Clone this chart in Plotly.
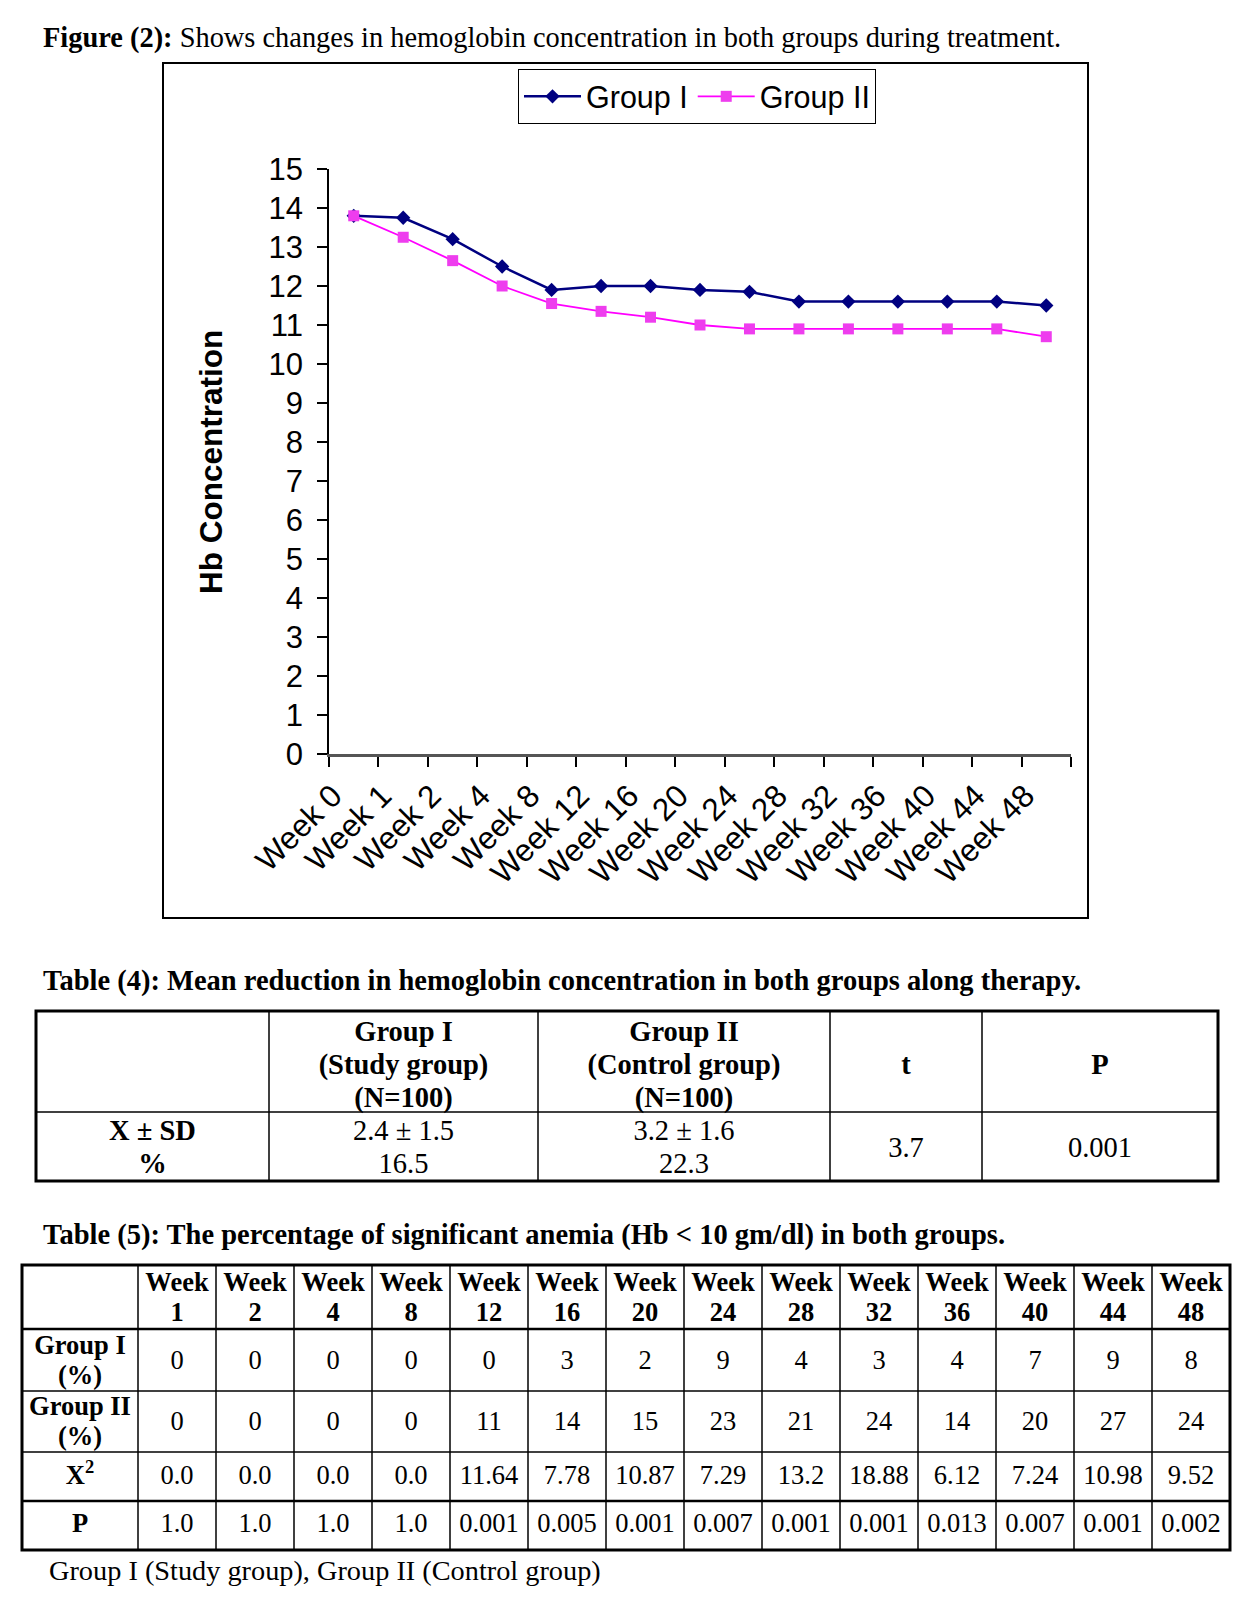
import plotly.graph_objects as go

# ---------------- data ----------------
weeks = ["Week 0", "Week 1", "Week 2", "Week 4", "Week 8", "Week 12", "Week 16", "Week 20",
         "Week 24", "Week 28", "Week 32", "Week 36", "Week 40", "Week 44", "Week 48"]
group1_hb = [13.8, 13.75, 13.2, 12.5, 11.9, 12.0, 12.0, 11.9, 11.85, 11.6, 11.6, 11.6, 11.6, 11.6, 11.5]
group2_hb = [13.8, 13.25, 12.65, 12.0, 11.55, 11.35, 11.2, 11.0, 10.9, 10.9, 10.9, 10.9, 10.9, 10.9, 10.7]

t4_header = ["", "Group I<br>(Study group)<br>(N=100)", "Group II<br>(Control group)<br>(N=100)", "t", "P"]
t4_row = ["<b>X ± SD</b><br><b>%</b>", "2.4 ± 1.5<br>16.5", "3.2 ± 1.6<br>22.3", "3.7", "0.001"]

t5_weeks = ["1", "2", "4", "8", "12", "16", "20", "24", "28", "32", "36", "40", "44", "48"]
t5_group1 = [0, 0, 0, 0, 0, 3, 2, 9, 4, 3, 4, 7, 9, 8]
t5_group2 = [0, 0, 0, 0, 11, 14, 15, 23, 21, 24, 14, 20, 27, 24]
t5_chi2 = ["0.0", "0.0", "0.0", "0.0", "11.64", "7.78", "10.87", "7.29", "13.2", "18.88", "6.12", "7.24", "10.98", "9.52"]
t5_p = ["1.0", "1.0", "1.0", "1.0", "0.001", "0.005", "0.001", "0.007", "0.001", "0.001", "0.013", "0.007", "0.001", "0.002"]
t5_row_labels = ["Group I<br>(%)", "Group II<br>(%)", "X<sup>2</sup>", "P"]

fig_title = "<b>Figure (2):</b> Shows changes in hemoglobin concentration in both groups during treatment."
t4_title = "<b>Table (4): Mean reduction in hemoglobin concentration in both groups along therapy.</b>"
t5_title = "<b>Table (5): The percentage of significant anemia (Hb &lt; 10 gm/dl) in both groups.</b>"
footnote = "Group I (Study group), Group II (Control group)"

# ---------------- page geometry ----------------
OFF = 8
W, H = 1252, 1592
SERIF = "Liberation Serif"
SANS = "Liberation Sans"


def px(X):
    return (X - OFF) / W


def py(Y):
    return 1 - (Y - OFF) / H


fig = go.Figure()

fig.add_trace(go.Scatter(x=weeks, y=group1_hb, name="Group I", mode="lines+markers",
                         line=dict(color="#000080", width=2.5),
                         marker=dict(symbol="diamond", size=11, color="#000080"),
                         xaxis="x", yaxis="y"))
fig.add_trace(go.Scatter(x=weeks, y=group2_hb, name="Group II", mode="lines+markers",
                         line=dict(color="#FF00FF", width=1.8),
                         marker=dict(symbol="square", size=11, color="#EE3DEE"),
                         xaxis="x", yaxis="y"))

shapes = []
annotations = []

# chart frame
shapes.append(dict(type="rect", xref="paper", yref="paper", x0=px(163), x1=px(1088),
                   y0=py(918), y1=py(63), line=dict(color="black", width=2)))

annotations.append(dict(text=fig_title, xref="paper", yref="paper", x=px(41), y=py(38),
                        xanchor="left", yanchor="middle", showarrow=False,
                        font=dict(family=SERIF, size=28.4, color="black")))
annotations.append(dict(text="<b>Hb Concentration</b>", xref="paper", yref="paper", x=px(211), y=py(462),
                        xanchor="center", yanchor="middle", textangle=-90, showarrow=False,
                        font=dict(family=SANS, size=31.5, color="black")))
annotations.append(dict(text=t4_title, xref="paper", yref="paper", x=px(41), y=py(981),
                        xanchor="left", yanchor="middle", showarrow=False,
                        font=dict(family=SERIF, size=28.5, color="black")))
annotations.append(dict(text=t5_title, xref="paper", yref="paper", x=px(41), y=py(1235),
                        xanchor="left", yanchor="middle", showarrow=False,
                        font=dict(family=SERIF, size=28.5, color="black")))
annotations.append(dict(text=footnote, xref="paper", yref="paper", x=px(47), y=py(1570),
                        xanchor="left", yanchor="middle", showarrow=False,
                        font=dict(family=SERIF, size=28.3, color="black")))

layout_axes = {}
PAD = 6


def add_table(idx, col_w, row_h, x_left, y_top, cells, font_size, line_h, text_dy, thick_after=()):
    xa, ya = "xaxis%d" % idx, "yaxis%d" % idx
    xr, yr = "x%d" % idx, "y%d" % idx
    tw, th = sum(col_w), sum(row_h)
    layout_axes[xa] = dict(domain=[px(x_left - PAD), px(x_left + tw + PAD)], range=[-PAD, tw + PAD],
                           visible=False, anchor=yr, fixedrange=True)
    layout_axes[ya] = dict(domain=[py(y_top + th + PAD), py(y_top - PAD)], range=[th + PAD, -PAD],
                           visible=False, anchor=xr, fixedrange=True)
    cx, edges_x = [], [0]
    acc = 0
    for w in col_w:
        cx.append(acc + w / 2)
        acc += w
        edges_x.append(acc)
    cy, edges_y = [], [0]
    acc = 0
    for h in row_h:
        cy.append(acc + h / 2)
        acc += h
        edges_y.append(acc)
    xs, ys, ts = [], [], []
    for r, row in enumerate(cells):
        for c, txt in enumerate(row):
            lines = str(txt).split("<br>")
            n = len(lines)
            for k, ln in enumerate(lines):
                if ln == "":
                    continue
                xs.append(cx[c])
                ys.append(cy[r] + (k - (n - 1) / 2) * line_h + text_dy[r])
                ts.append(ln)
    fig.add_trace(go.Scatter(x=xs, y=ys, text=ts, mode="text", textposition="middle center",
                             textfont=dict(family=SERIF, size=font_size, color="black"),
                             hoverinfo="skip", showlegend=False, cliponaxis=False,
                             xaxis=xr, yaxis=yr))
    for e in edges_x[1:-1]:
        shapes.append(dict(type="line", xref=xr, yref=yr, x0=e, x1=e, y0=0, y1=th,
                           line=dict(color="black", width=1.5)))
    for i, e in enumerate(edges_y[1:-1]):
        wdt = 2.5 if (i + 1) in thick_after else 1.5
        shapes.append(dict(type="line", xref=xr, yref=yr, x0=0, x1=tw, y0=e, y1=e,
                           line=dict(color="black", width=wdt)))
    shapes.append(dict(type="rect", xref=xr, yref=yr, x0=0, x1=tw, y0=0, y1=th,
                       line=dict(color="black", width=3)))


# Table 4
t4_cells = [[""] + ["<br>".join("<b>%s</b>" % p for p in s.split("<br>")) for s in t4_header[1:]],
            t4_row]
add_table(2, [233, 269, 292, 152, 236], [101, 69], 36, 1011, t4_cells, 28.5, 32.8, [5.5, 3])

# Table 5
t5_cells = [[""] + ["<b>Week</b><br><b>%s</b>" % w for w in t5_weeks]]
body_rows = [t5_group1, t5_group2, t5_chi2, t5_p]
for lab, vals in zip(t5_row_labels, body_rows):
    lab_b = "<br>".join("<b>%s</b>" % p for p in lab.split("<br>"))
    t5_cells.append([lab_b] + [str(v) for v in vals])
add_table(3, [116] + [78] * 14, [64, 62, 61, 49, 49], 22, 1265, t5_cells, 26.5, 30, [2, 2, 2, 1, 0],
          thick_after=(1, 4))

fig.update_layout(
    width=W, height=H, margin=dict(l=0, r=0, t=0, b=0),
    paper_bgcolor="white", plot_bgcolor="white",
    shapes=shapes, annotations=annotations,
    showlegend=True,
    legend=dict(orientation="h", x=px(697), y=py(69), xanchor="center", yanchor="top",
                bordercolor="black", borderwidth=1, bgcolor="white",
                font=dict(family=SANS, size=30.5, color="black"), itemwidth=57),
    xaxis=dict(domain=[px(329), px(1071)], type="category", range=[-0.5, 14.5],
               tickson="boundaries", ticks="outside", ticklen=10, tickwidth=1.5, tickcolor="black",
               showline=True, linecolor="#555555", linewidth=2.5, showgrid=False, zeroline=False,
               tickangle=-45, tickfont=dict(family=SANS, size=31.5, color="black"),
               ticklabelshift=-21, ticklabelstandoff=8,
               automargin=False, anchor="y", fixedrange=True),
    yaxis=dict(domain=[py(754), py(169)], range=[0, 15], dtick=1, ticks="outside", ticklen=10,
               tickwidth=1.5, tickcolor="black", showline=True, linecolor="black", linewidth=1.5,
               showgrid=False, zeroline=False, tickfont=dict(family=SANS, size=31, color="black"),
               ticklabelstandoff=8, automargin=False, anchor="x", fixedrange=True),
    **layout_axes,
)

fig.write_html("out.html")
